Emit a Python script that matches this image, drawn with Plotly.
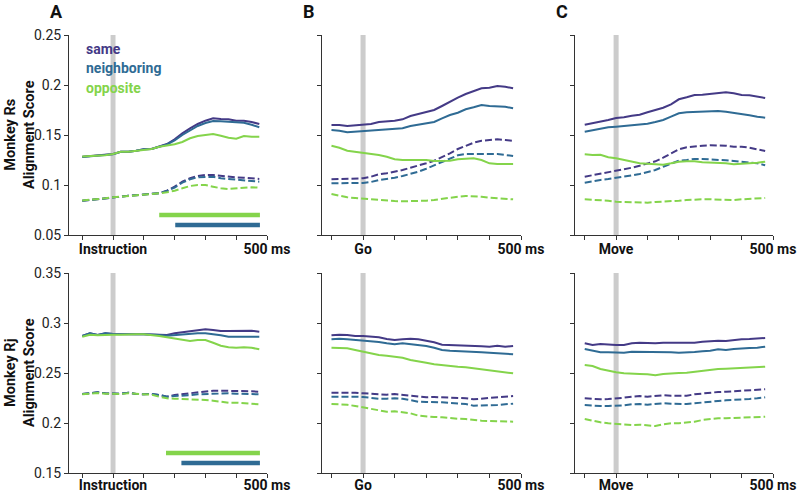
import plotly.graph_objects as go

# ---------------- data ----------------
time_ms = [-100, -75, -50, -25, 0, 25, 50, 75, 100, 125, 150, 175, 200, 225,
           250, 275, 300, 325, 350, 375, 400, 425, 450, 475]

groups = ["same", "neighboring", "opposite"]
event_labels = ["Instruction", "Go", "Move"]
monkeys = ["Monkey Rs", "Monkey Rj"]
panel_letters = ["A", "B", "C"]

# Monkey Rs, solid lines
rs_instr_same = [0.1283, 0.129, 0.1293, 0.1297, 0.131, 0.1333, 0.1333, 0.1343, 0.1357, 0.136, 0.1383, 0.141,
                 0.1457, 0.1517, 0.1567, 0.161, 0.1643, 0.1667, 0.166, 0.1657, 0.1643, 0.1643, 0.163, 0.161]
rs_instr_neigh = [0.128, 0.1287, 0.129, 0.1295, 0.1308, 0.1333, 0.1333, 0.1343, 0.1357, 0.136, 0.1383, 0.1405,
                  0.1445, 0.15, 0.1545, 0.159, 0.162, 0.164, 0.1637, 0.1633, 0.1623, 0.1623, 0.1603, 0.1577]
rs_instr_opp = [0.1285, 0.129, 0.1293, 0.1297, 0.131, 0.1333, 0.1333, 0.1343, 0.1357, 0.136, 0.1383, 0.1393,
                0.1407, 0.143, 0.1467, 0.149, 0.15, 0.151, 0.1493, 0.1473, 0.1463, 0.149, 0.1483, 0.1483]
rs_go_same = [0.16, 0.16, 0.159, 0.1597, 0.16, 0.161, 0.163, 0.1633, 0.1643, 0.1657, 0.169, 0.171,
              0.173, 0.175, 0.179, 0.1833, 0.1873, 0.191, 0.194, 0.1967, 0.1973, 0.199, 0.1983, 0.1967]
rs_go_neigh = [0.155, 0.1543, 0.1527, 0.1533, 0.1533, 0.154, 0.155, 0.155, 0.156, 0.1567, 0.159, 0.1603,
               0.1617, 0.163, 0.1667, 0.17, 0.1723, 0.1757, 0.1777, 0.18, 0.179, 0.179, 0.1783, 0.1767]
rs_go_opp = [0.1393, 0.1373, 0.1343, 0.1333, 0.1323, 0.1307, 0.13, 0.1283, 0.1257, 0.125, 0.125, 0.125,
             0.125, 0.124, 0.124, 0.1243, 0.1257, 0.1263, 0.1267, 0.125, 0.1217, 0.121, 0.121, 0.121]
rs_move_same = [0.1603, 0.1617, 0.1637, 0.165, 0.167, 0.1677, 0.1693, 0.1703, 0.1727, 0.175, 0.1773, 0.1807,
                0.1857, 0.1877, 0.19, 0.1903, 0.191, 0.1923, 0.1927, 0.1917, 0.19, 0.1897, 0.1883, 0.187]
rs_move_neigh = [0.1533, 0.155, 0.1563, 0.1577, 0.1583, 0.159, 0.1597, 0.16, 0.1613, 0.163, 0.165, 0.1683,
                 0.1717, 0.1727, 0.173, 0.1737, 0.1737, 0.174, 0.1733, 0.1723, 0.1707, 0.1697, 0.1683, 0.1673]
rs_move_opp = [0.1307, 0.13, 0.1303, 0.1277, 0.1267, 0.125, 0.1233, 0.1217, 0.1213, 0.1207, 0.1203, 0.1217,
               0.1233, 0.1237, 0.1237, 0.1227, 0.1223, 0.1223, 0.1217, 0.1207, 0.121, 0.1217, 0.1223, 0.1233]

# Monkey Rs, dashed lines
rs_instr_same_d = [0.0843, 0.085, 0.0857, 0.0867, 0.0877, 0.0883, 0.0893, 0.09, 0.0907, 0.091, 0.0917, 0.0943,
                   0.0983, 0.1033, 0.1067, 0.109, 0.11, 0.11, 0.109, 0.1083, 0.1077, 0.1073, 0.1067, 0.106]
rs_instr_neigh_d = [0.0843, 0.085, 0.0857, 0.0867, 0.0877, 0.0883, 0.0893, 0.09, 0.0907, 0.091, 0.0917, 0.094,
                    0.0975, 0.1023, 0.1057, 0.1077, 0.1083, 0.1083, 0.1067, 0.106, 0.1057, 0.105, 0.1043, 0.1033]
rs_instr_opp_d = [0.0845, 0.085, 0.0857, 0.0867, 0.0877, 0.0883, 0.0893, 0.09, 0.0907, 0.091, 0.0917, 0.0927,
                  0.0943, 0.0967, 0.099, 0.1, 0.1, 0.0983, 0.0967, 0.096, 0.0967, 0.0973, 0.0977, 0.0973]
rs_go_same_d = [0.1057, 0.106, 0.106, 0.1063, 0.1067, 0.1083, 0.1107, 0.1117, 0.1133, 0.115, 0.1173, 0.1193,
                0.1217, 0.1243, 0.1277, 0.1317, 0.136, 0.1393, 0.1423, 0.1443, 0.145, 0.1457, 0.145, 0.144]
rs_go_neigh_d = [0.1017, 0.102, 0.102, 0.102, 0.102, 0.103, 0.105, 0.106, 0.1073, 0.109, 0.111, 0.1133,
                 0.1163, 0.1197, 0.1233, 0.1267, 0.1297, 0.131, 0.131, 0.1313, 0.131, 0.131, 0.13, 0.129]
rs_go_opp_d = [0.091, 0.089, 0.0877, 0.087, 0.0863, 0.0857, 0.085, 0.0843, 0.084, 0.0837, 0.0837, 0.084,
               0.0843, 0.085, 0.0863, 0.0877, 0.0883, 0.089, 0.089, 0.0883, 0.0873, 0.0867, 0.0863, 0.0857]
rs_move_same_d = [0.1083, 0.1097, 0.1117, 0.113, 0.114, 0.1157, 0.1173, 0.1193, 0.1217, 0.1237, 0.1273, 0.1317,
                  0.1357, 0.1377, 0.1387, 0.1393, 0.1397, 0.1397, 0.1393, 0.1383, 0.1383, 0.1373, 0.1357, 0.134]
rs_move_neigh_d = [0.1023, 0.104, 0.105, 0.106, 0.107, 0.1083, 0.1097, 0.111, 0.113, 0.115, 0.1183, 0.1217,
                   0.1243, 0.125, 0.126, 0.126, 0.1257, 0.125, 0.1247, 0.124, 0.1233, 0.1227, 0.1217, 0.1197]
rs_move_opp_d = [0.0857, 0.0853, 0.085, 0.0843, 0.0833, 0.083, 0.0827, 0.0823, 0.0823, 0.083, 0.0833, 0.0837,
                 0.0843, 0.085, 0.0857, 0.0857, 0.0857, 0.0853, 0.085, 0.085, 0.0857, 0.086, 0.0863, 0.087]

# Monkey Rj, solid lines
rj_instr_same = [0.287, 0.2897, 0.288, 0.2897, 0.289, 0.2887, 0.289, 0.2887, 0.2887, 0.2887, 0.288, 0.288,
                 0.2897, 0.2907, 0.291, 0.2923, 0.2937, 0.293, 0.292, 0.292, 0.292, 0.2923, 0.2923, 0.2913]
rj_instr_neigh = [0.287, 0.2897, 0.288, 0.2897, 0.289, 0.2887, 0.289, 0.2887, 0.2887, 0.2887, 0.288, 0.2873,
                  0.288, 0.2883, 0.289, 0.2897, 0.2897, 0.289, 0.2877, 0.2863, 0.2863, 0.2867, 0.287, 0.2863]
rj_instr_opp = [0.2863, 0.2883, 0.2877, 0.2883, 0.2883, 0.2883, 0.2887, 0.2887, 0.2887, 0.288, 0.287, 0.2857,
                0.2847, 0.283, 0.282, 0.283, 0.283, 0.2803, 0.2773, 0.2757, 0.2753, 0.2757, 0.2753, 0.2737]
rj_go_same = [0.2877, 0.2883, 0.288, 0.287, 0.287, 0.2863, 0.2857, 0.284, 0.283, 0.2837, 0.2843, 0.2837,
              0.2823, 0.2807, 0.2783, 0.278, 0.2777, 0.278, 0.277, 0.2767, 0.2763, 0.2773, 0.2763, 0.277]
rj_go_neigh = [0.2837, 0.2843, 0.2837, 0.283, 0.2823, 0.282, 0.281, 0.2797, 0.2787, 0.2797, 0.279, 0.278,
               0.277, 0.2753, 0.273, 0.2723, 0.272, 0.272, 0.2713, 0.2707, 0.2703, 0.2697, 0.2697, 0.2687]
rj_go_opp = [0.2753, 0.2753, 0.2747, 0.273, 0.2713, 0.2697, 0.268, 0.2673, 0.2663, 0.2653, 0.263, 0.2613,
             0.2603, 0.2587, 0.2577, 0.257, 0.2563, 0.2557, 0.2547, 0.254, 0.253, 0.2513, 0.2503, 0.2497]
rj_move_same = [0.2797, 0.278, 0.279, 0.2783, 0.278, 0.278, 0.2797, 0.2803, 0.2797, 0.2797, 0.2803, 0.2803,
                0.2797, 0.2797, 0.2803, 0.2813, 0.282, 0.2823, 0.282, 0.283, 0.2837, 0.284, 0.2843, 0.285]
rj_move_neigh = [0.274, 0.2723, 0.2707, 0.2707, 0.2703, 0.2703, 0.2713, 0.2713, 0.271, 0.2707, 0.271, 0.2707,
                 0.2703, 0.2703, 0.271, 0.2717, 0.2723, 0.2737, 0.273, 0.274, 0.2747, 0.275, 0.2753, 0.2763]
rj_move_opp = [0.258, 0.257, 0.254, 0.2523, 0.2507, 0.2497, 0.2497, 0.249, 0.2487, 0.2477, 0.249, 0.2497,
               0.25, 0.2503, 0.2513, 0.2523, 0.2537, 0.254, 0.2543, 0.2547, 0.255, 0.2557, 0.256, 0.2563]

# Monkey Rj, dashed lines
rj_instr_same_d = [0.229, 0.2297, 0.2307, 0.2297, 0.2293, 0.2293, 0.2303, 0.229, 0.2287, 0.229, 0.228, 0.2263,
                   0.228, 0.229, 0.2297, 0.2303, 0.2313, 0.2323, 0.2323, 0.2323, 0.232, 0.2317, 0.2317, 0.2313]
rj_instr_neigh_d = [0.229, 0.2297, 0.2307, 0.2297, 0.2293, 0.2293, 0.2303, 0.229, 0.2287, 0.229, 0.228, 0.2263,
                    0.227, 0.2273, 0.2277, 0.2287, 0.229, 0.2297, 0.2297, 0.2297, 0.2293, 0.229, 0.229, 0.2287]
rj_instr_opp_d = [0.2287, 0.2293, 0.23, 0.2293, 0.229, 0.229, 0.2297, 0.229, 0.2287, 0.2283, 0.2263, 0.2247,
                  0.2243, 0.224, 0.224, 0.2237, 0.223, 0.2223, 0.2213, 0.2203, 0.2203, 0.2197, 0.219, 0.2187]
rj_go_same_d = [0.2303, 0.2303, 0.2307, 0.2303, 0.2297, 0.229, 0.2283, 0.2283, 0.229, 0.2283, 0.2273, 0.2263,
                0.2257, 0.226, 0.2257, 0.2253, 0.225, 0.2247, 0.2237, 0.2243, 0.225, 0.2257, 0.2263, 0.227]
rj_go_neigh_d = [0.2263, 0.2263, 0.227, 0.2263, 0.226, 0.225, 0.2243, 0.2243, 0.2247, 0.2243, 0.223, 0.2213,
                 0.221, 0.221, 0.2207, 0.22, 0.2197, 0.219, 0.2173, 0.2173, 0.2173, 0.218, 0.2187, 0.2193]
rj_go_opp_d = [0.219, 0.219, 0.2183, 0.217, 0.2157, 0.2137, 0.2127, 0.2113, 0.2117, 0.211, 0.2097, 0.2073,
               0.2063, 0.206, 0.2057, 0.2047, 0.2043, 0.204, 0.203, 0.2023, 0.202, 0.202, 0.2017, 0.2013]
rj_move_same_d = [0.2247, 0.224, 0.2237, 0.224, 0.2243, 0.2253, 0.2263, 0.227, 0.2263, 0.227, 0.2277, 0.2273,
                  0.2273, 0.2273, 0.2287, 0.2297, 0.2303, 0.231, 0.2313, 0.2317, 0.2323, 0.2327, 0.233, 0.2337]
rj_move_neigh_d = [0.218, 0.2173, 0.217, 0.217, 0.2173, 0.2177, 0.2187, 0.219, 0.2183, 0.2187, 0.2197, 0.2193,
                   0.219, 0.219, 0.2197, 0.2207, 0.2213, 0.222, 0.2227, 0.223, 0.2237, 0.224, 0.2247, 0.2257]
rj_move_opp_d = [0.204, 0.2023, 0.2007, 0.1997, 0.199, 0.198, 0.198, 0.1983, 0.1973, 0.197, 0.1987, 0.1997,
                 0.1997, 0.2003, 0.2013, 0.203, 0.204, 0.2047, 0.2047, 0.205, 0.2053, 0.2057, 0.2057, 0.2063]

# significance bars (Instruction panels only): [start_ms, end_ms, y]
sig_rs_opposite = [150, 477, 0.070]
sig_rs_neighboring = [202, 477, 0.060]
sig_rj_opposite = [172, 477, 0.170]
sig_rj_neighboring = [222, 477, 0.160]

x_tickvals = [-100, 0, 100, 200, 300, 400, 500]
y_ranges = [[0.05, 0.25], [0.15, 0.35]]
y_tickvals = [[0.05, 0.1, 0.15, 0.2, 0.25], [0.15, 0.2, 0.25, 0.3, 0.35]]
y_ticktext = [["0.05", "0.1", "0.15", "0.2", "0.25"], ["0.15", "0.2", "0.25", "0.3", "0.35"]]

# ---------------- styling ----------------
colors = {"same": "#443a86", "neighboring": "#2f6b94", "opposite": "#84d44b"}
W, H = 800, 493
col_px = [(69, 267), (322, 521), (575, 773)]
row_px = [(35, 235), (273, 473)]
x_ranges = [[-143, 500], [-130, 500], [-131, 500]]
label_standoff = [-3, -5]
FONT = "Roboto"

series = {
    (0, 0): ([rs_instr_same, rs_instr_neigh, rs_instr_opp], [rs_instr_same_d, rs_instr_neigh_d, rs_instr_opp_d]),
    (0, 1): ([rs_go_same, rs_go_neigh, rs_go_opp], [rs_go_same_d, rs_go_neigh_d, rs_go_opp_d]),
    (0, 2): ([rs_move_same, rs_move_neigh, rs_move_opp], [rs_move_same_d, rs_move_neigh_d, rs_move_opp_d]),
    (1, 0): ([rj_instr_same, rj_instr_neigh, rj_instr_opp], [rj_instr_same_d, rj_instr_neigh_d, rj_instr_opp_d]),
    (1, 1): ([rj_go_same, rj_go_neigh, rj_go_opp], [rj_go_same_d, rj_go_neigh_d, rj_go_opp_d]),
    (1, 2): ([rj_move_same, rj_move_neigh, rj_move_opp], [rj_move_same_d, rj_move_neigh_d, rj_move_opp_d]),
}
sig_bars = {
    0: [(sig_rs_opposite, "opposite"), (sig_rs_neighboring, "neighboring")],
    1: [(sig_rj_opposite, "opposite"), (sig_rj_neighboring, "neighboring")],
}

fig = go.Figure()
layout = dict(width=W, height=H, margin=dict(l=0, r=0, t=0, b=0, autoexpand=False),
              paper_bgcolor="white", plot_bgcolor="white", showlegend=False,
              font=dict(family=FONT, color="#222222"))
shapes = []
annotations = []

for r in range(2):
    for c in range(3):
        idx = r * 3 + c + 1
        xa = "xaxis" if idx == 1 else f"xaxis{idx}"
        ya = "yaxis" if idx == 1 else f"yaxis{idx}"
        xr = "x" if idx == 1 else f"x{idx}"
        yr = "y" if idx == 1 else f"y{idx}"
        x0, x1 = col_px[c]
        y0, y1 = row_px[r]
        layout[xa] = dict(domain=[x0 / W, x1 / W], range=x_ranges[c], anchor=yr,
                          showgrid=False, zeroline=False, showline=True, linecolor="#333333", linewidth=1,
                          ticks="outside", ticklen=4, tickcolor="#333333",
                          tickvals=x_tickvals,
                          ticktext=["", event_labels[c], "", "", "", "", "500 ms"],
                          tickfont=dict(family=FONT, size=14, color="#111111", weight="bold"),
                          ticklabelstandoff=label_standoff[r],
                          fixedrange=True)
        layout[ya] = dict(domain=[1 - y1 / H, 1 - y0 / H], range=y_ranges[r], anchor=xr,
                          showgrid=False, zeroline=False, showline=True, linecolor="#333333", linewidth=1,
                          ticks="outside", ticklen=4, tickcolor="#333333",
                          tickvals=y_tickvals[r], ticktext=y_ticktext[r],
                          showticklabels=(c == 0),
                          tickfont=dict(family=FONT, size=14, color="#222222"),
                          fixedrange=True)
        # event marker
        shapes.append(dict(type="rect", xref=xr, yref=f"{yr} domain", x0=-8, x1=8, y0=0, y1=1,
                           fillcolor="#cccccc", line=dict(width=0), layer="below"))
        solids, dashes = series[(r, c)]
        for g, ys in zip(groups, dashes):
            fig.add_trace(go.Scatter(x=time_ms, y=ys, mode="lines", xaxis=xr, yaxis=yr,
                                     line=dict(color=colors[g], width=2, dash="7px,3px")))
        for g, ys in zip(groups, solids):
            fig.add_trace(go.Scatter(x=time_ms, y=ys, mode="lines", xaxis=xr, yaxis=yr,
                                     line=dict(color=colors[g], width=2)))
        if c == 0:
            for bar, g in sig_bars[r]:
                fig.add_trace(go.Scatter(x=[bar[0], bar[1]], y=[bar[2], bar[2]], mode="lines",
                                         xaxis=xr, yaxis=yr,
                                         line=dict(color=colors[g], width=4.5)))

# panel letters
for c, letter in enumerate(panel_letters):
    annotations.append(dict(text=f"<b>{letter}</b>", xref="paper", yref="paper",
                            x=(col_px[c][0] - 13) / W, y=1 - 12 / H, showarrow=False,
                            font=dict(family=FONT, size=18, color="#111111"),
                            xanchor="center", yanchor="middle"))
# y titles
for r, name in enumerate(monkeys):
    annotations.append(dict(text=f"<b>{name}<br>Alignment Score</b>", xref="paper", yref="paper",
                            x=20 / W, y=1 - (row_px[r][0] + row_px[r][1]) / 2 / H, showarrow=False,
                            textangle=-90, font=dict(family=FONT, size=14.5, color="#111111"),
                            xanchor="center", yanchor="middle"))
# legend text
for i, g in enumerate(groups):
    annotations.append(dict(text=f"<b>{g}</b>", xref="paper", yref="paper",
                            x=84 / W, y=1 - (49 + 19.5 * i) / H, showarrow=False,
                            font=dict(family=FONT, size=14, color=colors[g]),
                            xanchor="left", yanchor="middle"))

layout["shapes"] = shapes
layout["annotations"] = annotations
fig.update_layout(**layout)
fig.write_html("out.html", config={"displayModeBar": False},
               post_script="document.body.style.margin='0';document.body.style.overflow='hidden';")
